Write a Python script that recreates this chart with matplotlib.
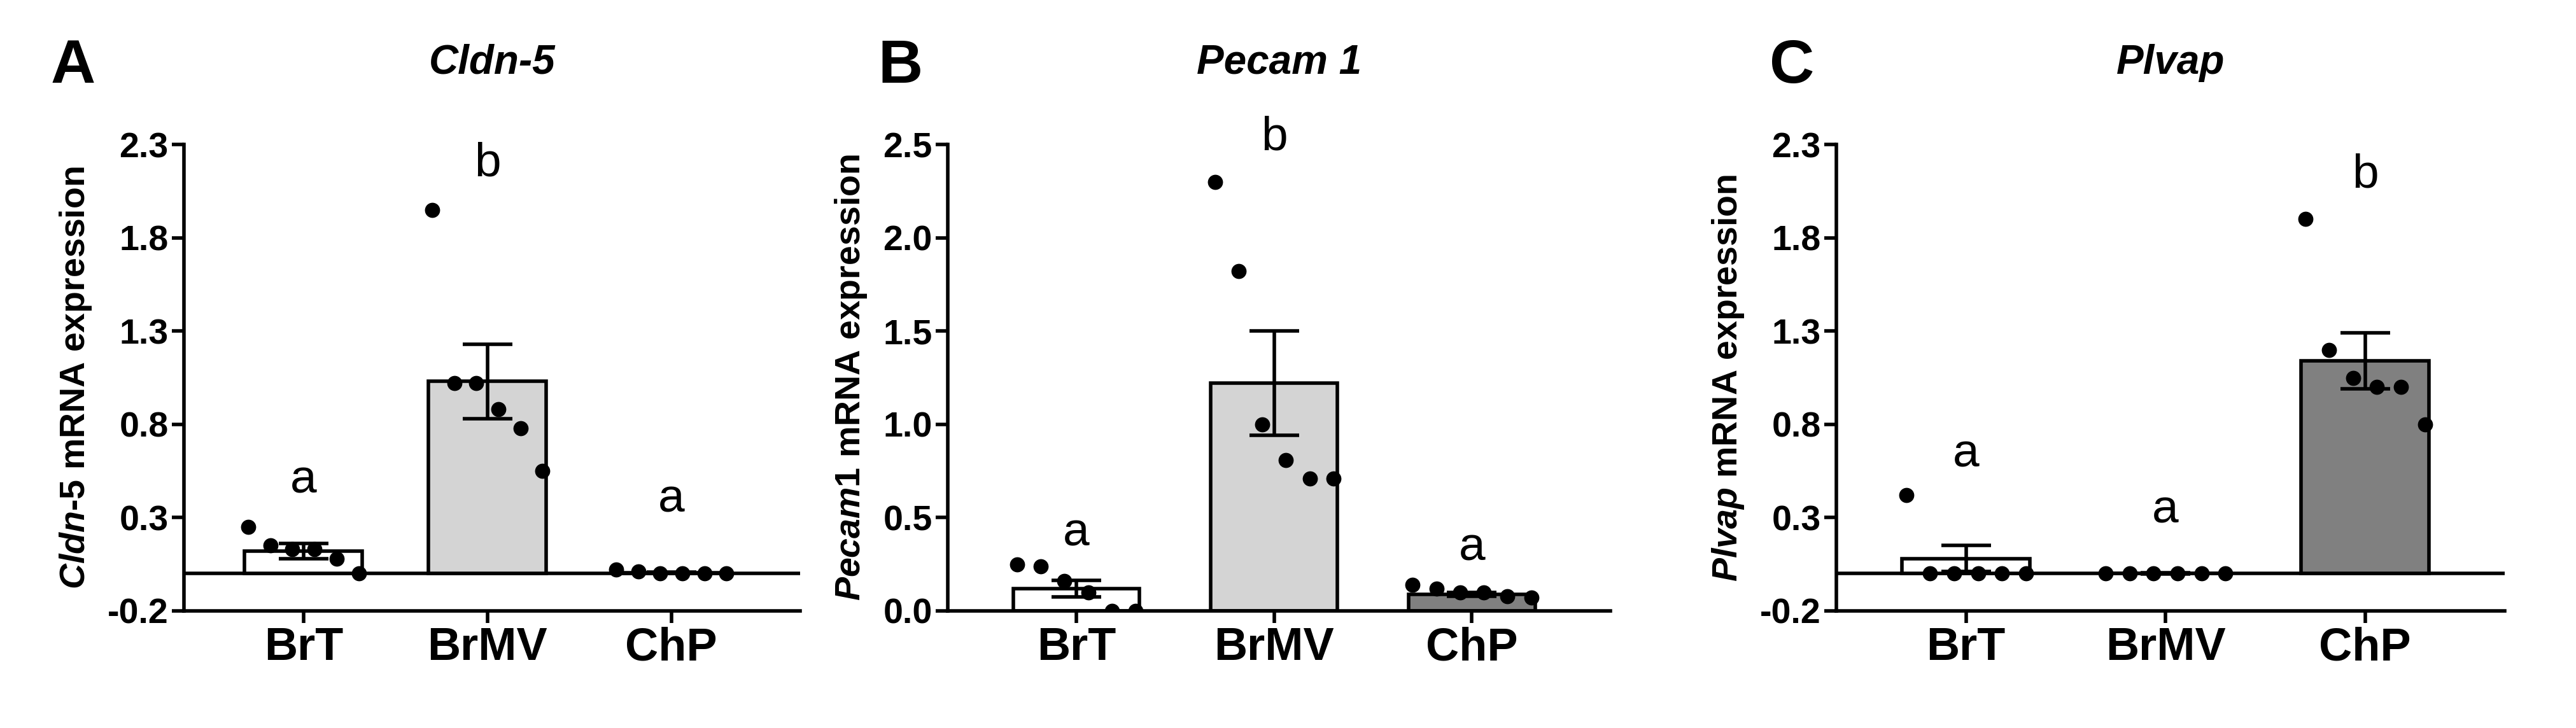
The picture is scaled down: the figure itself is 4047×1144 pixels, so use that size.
import matplotlib
matplotlib.use("Agg")
import matplotlib.pyplot as plt
import numpy as np

plt.rcParams['font.family'] = ['Liberation Sans', 'DejaVu Sans']
plt.rcParams['mathtext.fontset'] = 'custom'
plt.rcParams['mathtext.it'] = 'Liberation Sans:italic:bold'
plt.rcParams['mathtext.rm'] = 'Liberation Sans:bold'

groups = ["BrT", "BrMV", "ChP"]
colors = ["white", "#d4d4d4", "#808080"]

cldn_pts = [[0.25, 0.15, 0.13, 0.13, 0.08, 0.0],
            [1.95, 1.02, 1.02, 0.88, 0.78, 0.55],
            [0.02, 0.01, 0.0, 0.0, 0.0, 0.0]]
cldn_mean = [0.12, 1.03, 0.005]
cldn_sem = [0.04, 0.20, 0.004]
cldn_letters = ["a", "b", "a"]
cldn_letter_y = [0.38, 2.08, 0.28]

pecam_pts = [[0.25, 0.24, 0.16, 0.10, 0.0, 0.0],
             [2.30, 1.82, 1.0, 0.81, 0.71, 0.71],
             [0.14, 0.12, 0.10, 0.10, 0.08, 0.07]]
pecam_mean = [0.12, 1.22, 0.09]
pecam_sem = [0.045, 0.28, 0.01]
pecam_letters = ["a", "b", "a"]
pecam_letter_y = [0.30, 2.42, 0.22]

plvap_pts = [[0.42, 0.0, 0.0, 0.0, 0.0, 0.0],
             [0.0, 0.0, 0.0, 0.0, 0.0, 0.0],
             [1.90, 1.20, 1.05, 1.0, 1.0, 0.80]]
plvap_mean = [0.08, 0.0, 1.14]
plvap_sem = [0.07, 0.003, 0.15]
plvap_letters = ["a", "a", "b"]
plvap_letter_y = [0.52, 0.22, 2.02]

fig = plt.figure(figsize=(40.48, 11.44), dpi=100)
W, H = 4048, 1144
panels = [
    ("A", "Cldn-5", r"$\mathit{Cldn}$-$\mathit{5}$", cldn_pts, cldn_mean, cldn_sem, cldn_letters, cldn_letter_y,
     (-0.2, 2.3), [-0.2, 0.3, 0.8, 1.3, 1.8, 2.3], ["-0.2", "0.3", "0.8", "1.3", "1.8", "2.3"], True, 289, 1257, 80),
    ("B", "Pecam 1", r"$\mathit{Pecam1}$", pecam_pts, pecam_mean, pecam_sem, pecam_letters, pecam_letter_y,
     (0, 2.5), [0, 0.5, 1.0, 1.5, 2.0, 2.5], ["0.0", "0.5", "1.0", "1.5", "2.0", "2.5"], False, 1489, 2530, 1380),
    ("C", "Plvap", r"$\mathit{Plvap}$", plvap_pts, plvap_mean, plvap_sem, plvap_letters, plvap_letter_y,
     (-0.2, 2.3), [-0.2, 0.3, 0.8, 1.3, 1.8, 2.3], ["-0.2", "0.3", "0.8", "1.3", "1.8", "2.3"], True, 2885, 3935, 2780),
]
top, bot = 227, 960
offs = np.array([-0.3, -0.18, -0.06, 0.06, 0.18, 0.3])
for (lab, title, yl, pts, mean, sem, lets, lety, ylim, yt, ytl, zline, x0, x1, lx) in panels:
    ax = fig.add_axes([x0 / W, 1 - bot / H, (x1 - x0) / W, (bot - top) / H])
    x = np.arange(3)
    ax.bar(x, mean, width=0.64, color=colors, edgecolor="black", linewidth=4, zorder=2)
    for i in range(3):
        ax.errorbar(x[i], mean[i], yerr=sem[i], color="black", capsize=28, capthick=4, elinewidth=4, zorder=3)
        ax.scatter(x[i] + offs, pts[i], s=260, color="black", zorder=4)
        ax.text(x[i], lety[i], lets[i], ha="center", va="bottom", fontsize=54)
    if zline:
        ax.axhline(0, color="black", lw=4, zorder=1)
    ax.set_xlim(-0.65, 2.7)
    ax.set_ylim(*ylim)
    ax.set_yticks(yt)
    ax.set_yticklabels(ytl, fontsize=40, fontweight="bold")
    ax.set_xticks(x)
    ax.set_xticklabels(groups, fontsize=52, fontweight="bold")
    for s in ["top", "right"]:
        ax.spines[s].set_visible(False)
    for s in ["left", "bottom"]:
        ax.spines[s].set_linewidth(4)
    ax.tick_params(width=4, length=14)
    ax.set_ylabel(yl + " mRNA expression", fontsize=40, fontweight="bold", labelpad=16)
    ax.set_title(title, fontsize=46, fontweight="bold", style="italic", pad=80)
    fig.text(lx / W, 1 - 105 / H, lab, fontsize=70, fontweight="bold", va="center")

fig.savefig("out.png", dpi=100)
